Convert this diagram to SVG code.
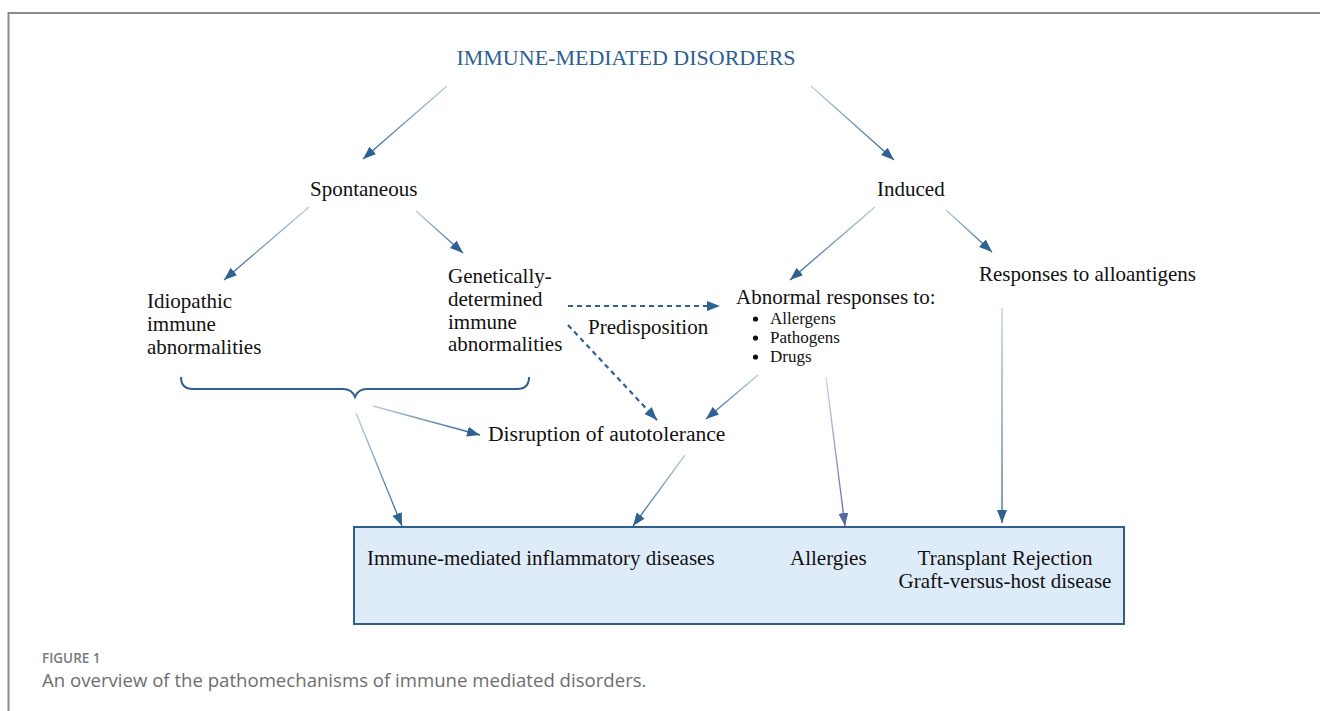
<svg xmlns="http://www.w3.org/2000/svg" width="1320" height="711" viewBox="0 0 1320 711">
<style>
.t{font-family:"Liberation Serif","Times New Roman",serif;font-size:21px;fill:#111}
.s{font-family:"Liberation Serif","Times New Roman",serif;font-size:17px;fill:#111}
.title{font-family:"Liberation Serif","Times New Roman",serif;font-size:22px;fill:#2d5f94}
.cap1{font-family:"Open Sans","Noto Sans",sans-serif;font-size:13.5px;font-weight:600;fill:#7a7a7a}
.cap2{font-family:"Open Sans","Noto Sans",sans-serif;font-size:18.6px;fill:#6e6e6e}
.ln{fill:none;stroke-width:1.3}
.dash{fill:none;stroke:#2d6292;stroke-width:2.2;stroke-dasharray:5,4}
</style>
<defs>
<marker id="ah" markerUnits="userSpaceOnUse" markerWidth="13" markerHeight="10" refX="13" refY="5" orient="auto"><path d="M0,0 L13,5 L0,10 z" fill="#2d6292"/></marker>
<marker id="ahp" markerUnits="userSpaceOnUse" markerWidth="13" markerHeight="10" refX="13" refY="5" orient="auto"><path d="M0,0 L13,5 L0,10 z" fill="#5566a6"/></marker>
<linearGradient id="g1" gradientUnits="userSpaceOnUse" x1="447" y1="86" x2="363" y2="159"><stop offset="0" stop-color="#b9cde1"/><stop offset="1" stop-color="#2d6292"/></linearGradient>
<linearGradient id="g2" gradientUnits="userSpaceOnUse" x1="811" y1="86" x2="894" y2="160"><stop offset="0" stop-color="#b9cde1"/><stop offset="1" stop-color="#2d6292"/></linearGradient>
<linearGradient id="g3" gradientUnits="userSpaceOnUse" x1="309" y1="207" x2="224" y2="280"><stop offset="0" stop-color="#b9cde1"/><stop offset="1" stop-color="#2d6292"/></linearGradient>
<linearGradient id="g4" gradientUnits="userSpaceOnUse" x1="416" y1="211" x2="463" y2="253"><stop offset="0" stop-color="#b9cde1"/><stop offset="1" stop-color="#2d6292"/></linearGradient>
<linearGradient id="g5" gradientUnits="userSpaceOnUse" x1="875" y1="207" x2="790" y2="280"><stop offset="0" stop-color="#b9cde1"/><stop offset="1" stop-color="#2d6292"/></linearGradient>
<linearGradient id="g6" gradientUnits="userSpaceOnUse" x1="946" y1="210" x2="992" y2="252"><stop offset="0" stop-color="#b9cde1"/><stop offset="1" stop-color="#2d6292"/></linearGradient>
<linearGradient id="g9" gradientUnits="userSpaceOnUse" x1="758" y1="375" x2="706" y2="419"><stop offset="0" stop-color="#b9cde1"/><stop offset="1" stop-color="#2d6292"/></linearGradient>
<linearGradient id="g10" gradientUnits="userSpaceOnUse" x1="826" y1="377" x2="845" y2="526"><stop offset="0" stop-color="#c9d1e8"/><stop offset="1" stop-color="#5566a6"/></linearGradient>
<linearGradient id="g11" gradientUnits="userSpaceOnUse" x1="1002" y1="308" x2="1002" y2="523"><stop offset="0" stop-color="#b9cde1"/><stop offset="1" stop-color="#2d6292"/></linearGradient>
<linearGradient id="g12" gradientUnits="userSpaceOnUse" x1="373" y1="406" x2="480" y2="435"><stop offset="0" stop-color="#b9cde1"/><stop offset="1" stop-color="#2d6292"/></linearGradient>
<linearGradient id="g13" gradientUnits="userSpaceOnUse" x1="356" y1="413" x2="402" y2="526"><stop offset="0" stop-color="#b9cde1"/><stop offset="1" stop-color="#2d6292"/></linearGradient>
<linearGradient id="g14" gradientUnits="userSpaceOnUse" x1="685" y1="455" x2="633" y2="526"><stop offset="0" stop-color="#b9cde1"/><stop offset="1" stop-color="#2d6292"/></linearGradient>
</defs>
<rect x="0" y="0" width="1320" height="711" fill="#ffffff"/>
<rect x="8.5" y="13" width="1400" height="800" fill="none" stroke="#8c8c8c" stroke-width="2"/>

<g id="box">
<rect x="354" y="527" width="770" height="97" fill="#deebf8" stroke="#2f5f8e" stroke-width="2"/>
<text class="t" x="367" y="565">Immune-mediated inflammatory diseases</text>
<text class="t" x="790" y="565">Allergies</text>
<text class="t" x="1005" y="565" text-anchor="middle">Transplant Rejection</text>
<text class="t" x="1005" y="588" text-anchor="middle">Graft-versus-host disease</text>
</g>

<g id="title"><text class="title" x="626" y="65" text-anchor="middle">IMMUNE-MEDIATED DISORDERS</text></g>
<g id="spontaneous"><text class="t" x="310" y="196">Spontaneous</text></g>
<g id="induced"><text class="t" x="877" y="196">Induced</text></g>
<g id="idiopathic">
<text class="t" x="147" y="308">Idiopathic</text>
<text class="t" x="147" y="331">immune</text>
<text class="t" x="147" y="354">abnormalities</text>
</g>
<g id="genetic">
<text class="t" x="448" y="283">Genetically-</text>
<text class="t" x="448" y="306">determined</text>
<text class="t" x="448" y="329">immune</text>
<text class="t" x="448" y="351">abnormalities</text>
</g>
<g id="abnormal">
<text class="t" x="736" y="304">Abnormal responses to:</text>
<circle cx="755.5" cy="319" r="2.6" fill="#111"/>
<circle cx="755.5" cy="338" r="2.6" fill="#111"/>
<circle cx="755.5" cy="357" r="2.6" fill="#111"/>
<text class="s" x="770" y="324">Allergens</text>
<text class="s" x="770" y="343">Pathogens</text>
<text class="s" x="770" y="362">Drugs</text>
</g>
<g id="alloantigens"><text class="t" x="979" y="281">Responses to alloantigens</text></g>
<g id="disruption"><text class="t" x="488" y="441" style="font-size:21.6px">Disruption of autotolerance</text></g>
<g id="predisposition"><text class="t" x="588" y="334">Predisposition</text></g>
<g id="brace"><path d="M181,377 Q181,389 193,389 L343,389 Q352,389 355,397 Q358,389 367,389 L517,389 Q529,389 529,377" fill="none" stroke="#2f5f8e" stroke-width="2"/></g>

<g id="connectors">
<line class="ln" x1="447" y1="86" x2="363" y2="159" stroke="url(#g1)" marker-end="url(#ah)"/>
<line class="ln" x1="811" y1="86" x2="894" y2="160" stroke="url(#g2)" marker-end="url(#ah)"/>
<line class="ln" x1="309" y1="207" x2="224" y2="280" stroke="url(#g3)" marker-end="url(#ah)"/>
<line class="ln" x1="416" y1="211" x2="463" y2="253" stroke="url(#g4)" marker-end="url(#ah)"/>
<line class="ln" x1="875" y1="207" x2="790" y2="280" stroke="url(#g5)" marker-end="url(#ah)"/>
<line class="ln" x1="946" y1="210" x2="992" y2="252" stroke="url(#g6)" marker-end="url(#ah)"/>
<line class="dash" x1="568" y1="306" x2="720" y2="306" marker-end="url(#ah)"/>
<line class="dash" x1="568" y1="325" x2="657" y2="420" marker-end="url(#ah)"/>
<line class="ln" x1="758" y1="375" x2="706" y2="419" stroke="url(#g9)" marker-end="url(#ah)"/>
<line class="ln" x1="826" y1="377" x2="845" y2="526" stroke="url(#g10)" marker-end="url(#ahp)"/>
<line class="ln" x1="1002" y1="308" x2="1002" y2="523" stroke="url(#g11)" marker-end="url(#ah)"/>
<line class="ln" x1="373" y1="406" x2="480" y2="435" stroke="url(#g12)" marker-end="url(#ah)"/>
<line class="ln" x1="356" y1="413" x2="402" y2="526" stroke="url(#g13)" marker-end="url(#ah)"/>
<line class="ln" x1="685" y1="455" x2="633" y2="526" stroke="url(#g14)" marker-end="url(#ah)"/>
</g>

<g id="caption">
<text class="cap1" x="42" y="663">FIGURE 1</text>
<text class="cap2" x="42" y="687">An overview of the pathomechanisms of immune mediated disorders.</text>
</g>
</svg>
